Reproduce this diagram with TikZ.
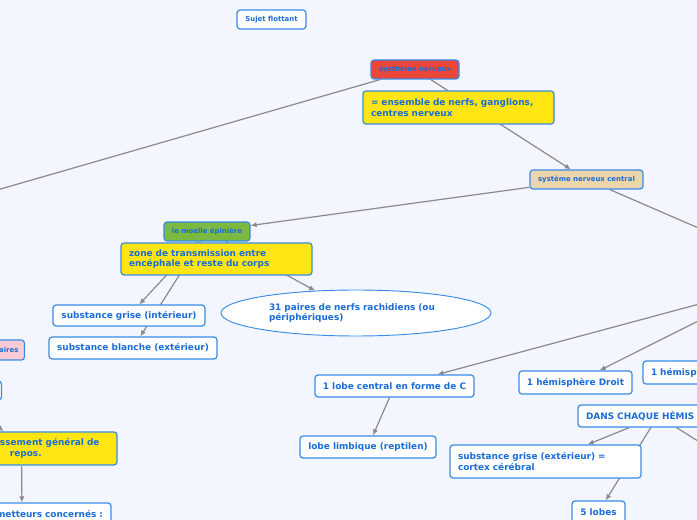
\documentclass[tikz,border=0pt]{standalone}
\usepackage{fontspec}
\setmainfont{DejaVu Sans}
\usetikzlibrary{positioning, arrows.meta, backgrounds, shapes.geometric}
\definecolor{mapBg}{RGB}{243,246,254}
\definecolor{mapText}{RGB}{26,108,214}
\definecolor{mapBorder}{RGB}{56,140,232}
\definecolor{mapLine}{RGB}{138,138,138}
\definecolor{mapRed}{RGB}{234,70,58}
\definecolor{mapYellow}{RGB}{255,230,18}
\definecolor{mapTan}{RGB}{234,214,170}
\definecolor{mapGreen}{RGB}{124,185,64}
\definecolor{mapPink}{RGB}{250,202,214}

\begin{document}
\begin{tikzpicture}[
    x=0.75pt, y=-0.75pt,
    topic/.style={rectangle, draw=mapBorder, line width=0.9pt, fill=white,
                  rounded corners=2.25pt, text=mapText, inner sep=0pt,
                  font=\fontsize{6.7}{8}\selectfont\bfseries, minimum height=16.5pt},
    small/.style={topic, font=\fontsize{5.2}{6.5}\selectfont\bfseries, minimum height=14.25pt},
    note/.style={topic, fill=mapYellow, text width=131.25pt, align=left,
                 minimum width=143.25pt, minimum height=24.75pt},
    bubble/.style={ellipse, draw=mapBorder, line width=0.7pt, fill=white, text=mapText,
                   inner sep=0pt, font=\fontsize{6.7}{8}\selectfont\bfseries},
    arrow/.style={-{Latex[length=4.5pt,width=4pt]}, draw=mapLine, line width=0.9pt},
  ]
    \useasboundingbox (0,0) rectangle (697,520);
    \clip (0,0) rectangle (697,520);

    \node[small, minimum width=51.75pt] (FLOAT) at (271.5,19.5) {Sujet flottant};
    \node[small, fill=mapRed, minimum width=66pt] (SN) at (415,69.5) {systhème nerveux};
    \node[note] (NOTE1) at (458.5,107.5) {= ensemble de nerfs, ganglions,\\centres nerveux};
    \node[small, fill=mapTan, minimum width=84.75pt] (SNC) at (586.5,179.5) {système nerveux central};

    % moelle
    \node[small, fill=mapGreen, minimum width=64.5pt] (ME) at (207,231.5) {le moelle épinière};
    \node[note, minimum height=24pt] (NOTE2) at (216.5,259) {zone de transmission entre\\encéphale et reste du corps};
    \node[topic, minimum width=114pt, minimum height=15.75pt] (SGI) at (129,315.5) {substance grise (intérieur)};
    \node[topic, minimum width=126pt] (SBL) at (133,348) {substance blanche (extérieur)};
    \node[bubble, text width=130.5pt, align=left, minimum width=202.5pt, minimum height=34.5pt]
         (RACHI) at (356,313) {31 paires de nerfs rachidiens (ou\\périphériques)};

    % encephale
    \node[topic, minimum width=119.25pt] (LOBEC) at (394.5,386) {1 lobe central en forme de C};
    \node[topic, minimum width=102pt] (LIMB) at (368,447) {lobe limbique (reptilen)};
    \node[topic, minimum width=84.75pt, minimum height=17.25pt] (HEMD) at (575.5,382.5) {1 hémisphère Droit};
    \node[topic, minimum width=84.75pt, minimum height=17.25pt, text width=72.75pt, align=left]
         (HEMG) at (699.5,372.5) {1 hémisp};
    \node[topic, minimum width=120pt, text width=108pt, align=left] (DANS) at (658,416) {DANS CHAQUE HÉMIS};
    \node[note, fill=white] (CORTEX) at (545.5,461.5) {substance grise (extérieur) =\\cortex cérébral};
    \node[topic, minimum width=39.75pt] (LOBES) at (598.5,512) {5 lobes};

    % left edge
    \node[small, fill=mapPink, anchor=east, inner xsep=4.5pt, minimum height=15pt] (AIRES) at (25,350) {aires};
    \node[small, minimum width=62.25pt] (LB) at (-40,390.5) {};
    \node[note] (NOTE3) at (21.5,448.5) {\hspace*{49.5pt}ssement général de\\\hspace*{57pt}repos.};
    \node[topic, minimum width=133.5pt, text width=121.5pt, align=right] (METT) at (22,514) {metteurs concernés :};

    \coordinate (OFFL) at (-100,218);
    \coordinate (OFFR1) at (800,272);
    \coordinate (OFFR2) at (770,285);
    \coordinate (OFFR3) at (760,480);

    \begin{scope}[on background layer]
      \clip (0,0) rectangle (697,520);
      \fill[mapBg] (0,0) rectangle (697,520);
      \draw[arrow] (SN) -- (OFFL);
      \draw[arrow] (SN) -- (SNC);
      \draw[arrow] (SNC) -- (ME);
      \draw[arrow] (SNC) -- (OFFR1);
      \draw[arrow] (ME) -- (SGI);
      \draw[arrow] (ME) -- (SBL);
      \draw[arrow] (ME) -- (RACHI);
      \draw[arrow] (OFFR2) -- (LOBEC);
      \draw[arrow] (OFFR2) -- (HEMD);
      \draw[arrow] (LOBEC) -- (LIMB);
      \draw[arrow] (DANS) -- (CORTEX);
      \draw[arrow] (DANS) -- (LOBES);
      \draw[arrow] (DANS) -- (OFFR3);
      \draw[arrow] (LB) -- (NOTE3);
      \draw[arrow] (NOTE3) -- (METT);
    \end{scope}
  \end{tikzpicture}
\end{document}
